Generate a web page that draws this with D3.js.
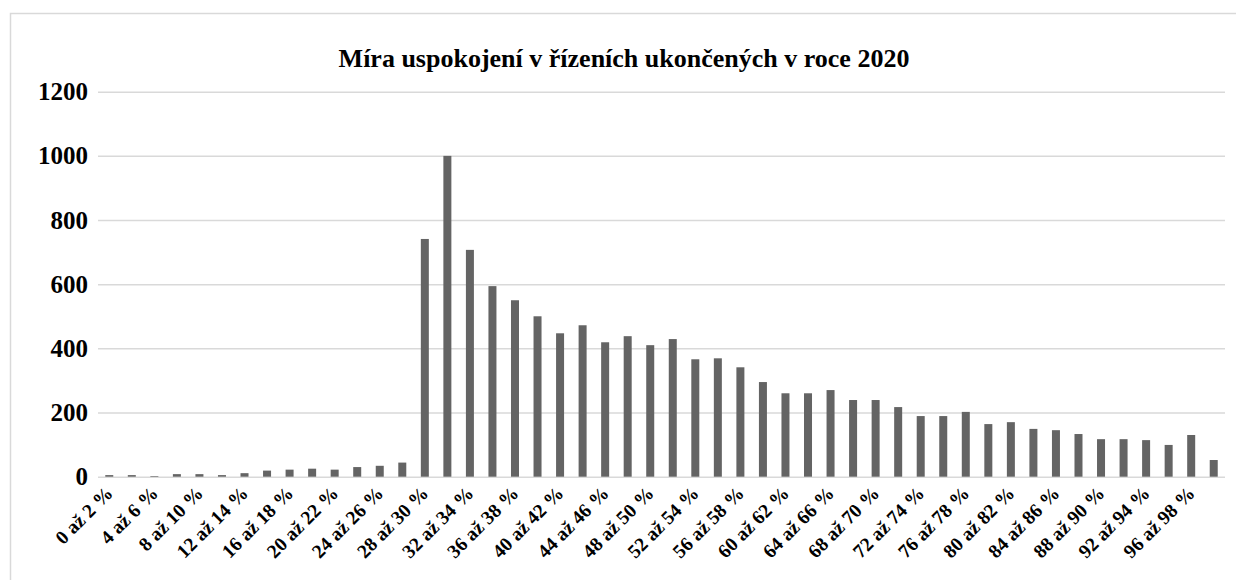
<!DOCTYPE html>
<html>
<head>
<meta charset="utf-8">
<script src="https://cdn.jsdelivr.net/npm/d3@7/dist/d3.min.js"></script>
<style>
  body { margin: 0; background: #fff; }
  text { font-family: "Liberation Serif", "Times New Roman", serif; font-weight: bold; fill: #000; }
</style>
</head>
<body>
<div id="chart"></div>
<script>
const chartTitle = 'Míra uspokojení v řízeních ukončených v roce 2020';

const categories = [
  '0 až 2 %', '2 až 4 %', '4 až 6 %', '6 až 8 %', '8 až 10 %',
  '10 až 12 %', '12 až 14 %', '14 až 16 %', '16 až 18 %', '18 až 20 %',
  '20 až 22 %', '22 až 24 %', '24 až 26 %', '26 až 28 %', '28 až 30 %',
  '30 až 32 %', '32 až 34 %', '34 až 36 %', '36 až 38 %', '38 až 40 %',
  '40 až 42 %', '42 až 44 %', '44 až 46 %', '46 až 48 %', '48 až 50 %',
  '50 až 52 %', '52 až 54 %', '54 až 56 %', '56 až 58 %', '58 až 60 %',
  '60 až 62 %', '62 až 64 %', '64 až 66 %', '66 až 68 %', '68 až 70 %',
  '70 až 72 %', '72 až 74 %', '74 až 76 %', '76 až 78 %', '78 až 80 %',
  '80 až 82 %', '82 až 84 %', '84 až 86 %', '86 až 88 %', '88 až 90 %',
  '90 až 92 %', '92 až 94 %', '94 až 96 %', '96 až 98 %', '98 až 100 %'
];

const counts = [
  5, 5, 2, 8, 8, 5, 11, 19, 22, 25,
  22, 30, 34, 44, 741, 1000, 707, 594, 550, 500,
  447, 472, 419, 438, 410, 429, 366, 369, 341, 295,
  260, 260, 270, 239, 239, 217, 189, 189, 202, 164,
  170, 149, 145, 133, 117, 117, 114, 99, 130, 52
];

const yTicks = [0, 200, 400, 600, 800, 1000, 1200];

// labels only on every other category, like the original
const xTickLabels = categories.filter((c, i) => i % 2 === 0);

const width = 1236;
const height = 580;
const plot = { left: 98, right: 1225, top: 91.7, bottom: 476.7 };

const svg = d3.select('#chart')
  .append('svg')
  .attr('width', width)
  .attr('height', height);

// outer frame
svg.append('rect')
  .attr('x', 10.5)
  .attr('y', 13.5)
  .attr('width', 1300)
  .attr('height', 700)
  .attr('fill', 'none')
  .attr('stroke', '#d9d9d9')
  .attr('stroke-width', 1.5);

const xScale = d3.scaleBand()
  .domain(categories)
  .range([plot.left, plot.right])
  .paddingInner(0.645)
  .paddingOuter(0.3225);

const yScale = d3.scaleLinear()
  .domain([0, 1200])
  .range([plot.bottom, plot.top]);

// Y AXIS + GRID
const yAxis = svg.append('g')
  .attr('class', 'axis y-axis')
  .attr('transform', 'translate(' + plot.left + ',0)')
  .call(d3.axisLeft(yScale)
    .tickValues(yTicks)
    .tickFormat(d3.format('d'))
    .tickSize(-(plot.right - plot.left))
    .tickPadding(10));

yAxis.select('.domain').remove();
yAxis.selectAll('line')
  .attr('stroke', '#d9d9d9')
  .attr('stroke-width', 1.5);
yAxis.selectAll('text')
  .style('font-size', '25px');

// BARS
svg.append('g')
  .selectAll('rect')
  .data(counts)
  .enter()
  .append('rect')
  .attr('x', (d, i) => xScale(categories[i]))
  .attr('y', d => yScale(d))
  .attr('width', xScale.bandwidth())
  .attr('height', d => yScale(0) - yScale(d))
  .attr('fill', '#646464');

// X AXIS
const xAxis = svg.append('g')
  .attr('class', 'axis x-axis')
  .attr('transform', 'translate(0,' + plot.bottom + ')')
  .call(d3.axisBottom(xScale)
    .tickValues(xTickLabels)
    .tickSize(0));

xAxis.select('.domain').remove();
xAxis.selectAll('text')
  .attr('x', 0)
  .attr('y', 0)
  .attr('dy', '0.35em')
  .attr('text-anchor', 'end')
  .attr('transform', 'translate(0,13) rotate(-45)')
  .style('font-size', '19.5px');

// TITLE
svg.append('text')
  .attr('x', 624)
  .attr('y', 67)
  .attr('text-anchor', 'middle')
  .style('font-size', '26px')
  .text(chartTitle);
</script>
</body>
</html>
